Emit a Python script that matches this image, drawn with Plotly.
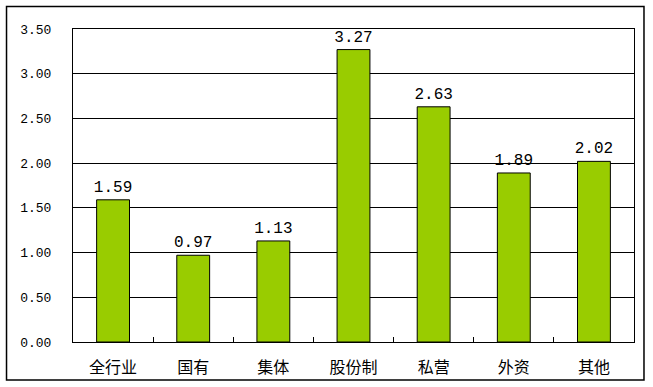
import plotly.graph_objects as go

categories = ["全行业", "国有", "集体", "股份制", "私营", "外资", "其他"]
values = [1.59, 0.97, 1.13, 3.27, 2.63, 1.89, 2.02]
y_ticks = [0, 0.5, 1.0, 1.5, 2.0, 2.5, 3.0, 3.5]

fig = go.Figure(go.Bar(
    x=categories, y=values,
    marker=dict(color="#99CC00", line=dict(color="black", width=1)),
    text=[f"{v:.2f}" for v in values], textposition="outside",
    textfont=dict(family="Liberation Mono", size=16, color="black"),
    cliponaxis=False,
))

fig.update_layout(
    width=653, height=387,
    margin=dict(l=73, r=19, t=29, b=45),
    paper_bgcolor="white", plot_bgcolor="white",
    bargap=0.59, showlegend=False,
    font=dict(color="black"),
    uniformtext=dict(minsize=16, mode="show"),
    shapes=[dict(type="rect", xref="paper", yref="paper",
                 x0=-0.1185, x1=1.0178, y0=-0.1214, y1=1.0719,
                 line=dict(color="black", width=1.5), layer="below")],
)
fig.update_xaxes(
    showline=True, linecolor="black", linewidth=1, mirror=True,
    ticks="inside", ticklen=5, tickcolor="black", tickson="boundaries",
    showgrid=False, automargin=False,
    tickfont=dict(family="Noto Sans CJK SC", size=16, color="black"),
    ticklabelstandoff=11,
)
fig.update_yaxes(
    range=[0, 3.5], tickvals=y_ticks, tickformat=".2f",
    showline=True, linecolor="black", linewidth=1, mirror=True,
    showgrid=True, gridcolor="black", gridwidth=1,
    ticks="", zeroline=False, automargin=False,
    tickfont=dict(family="Liberation Mono", size=13, color="black"),
    ticklabelstandoff=18,
)

fig.write_html("out.html", config={"displayModeBar": False},
               post_script="document.body.style.margin='0';document.body.style.overflow='hidden';")
